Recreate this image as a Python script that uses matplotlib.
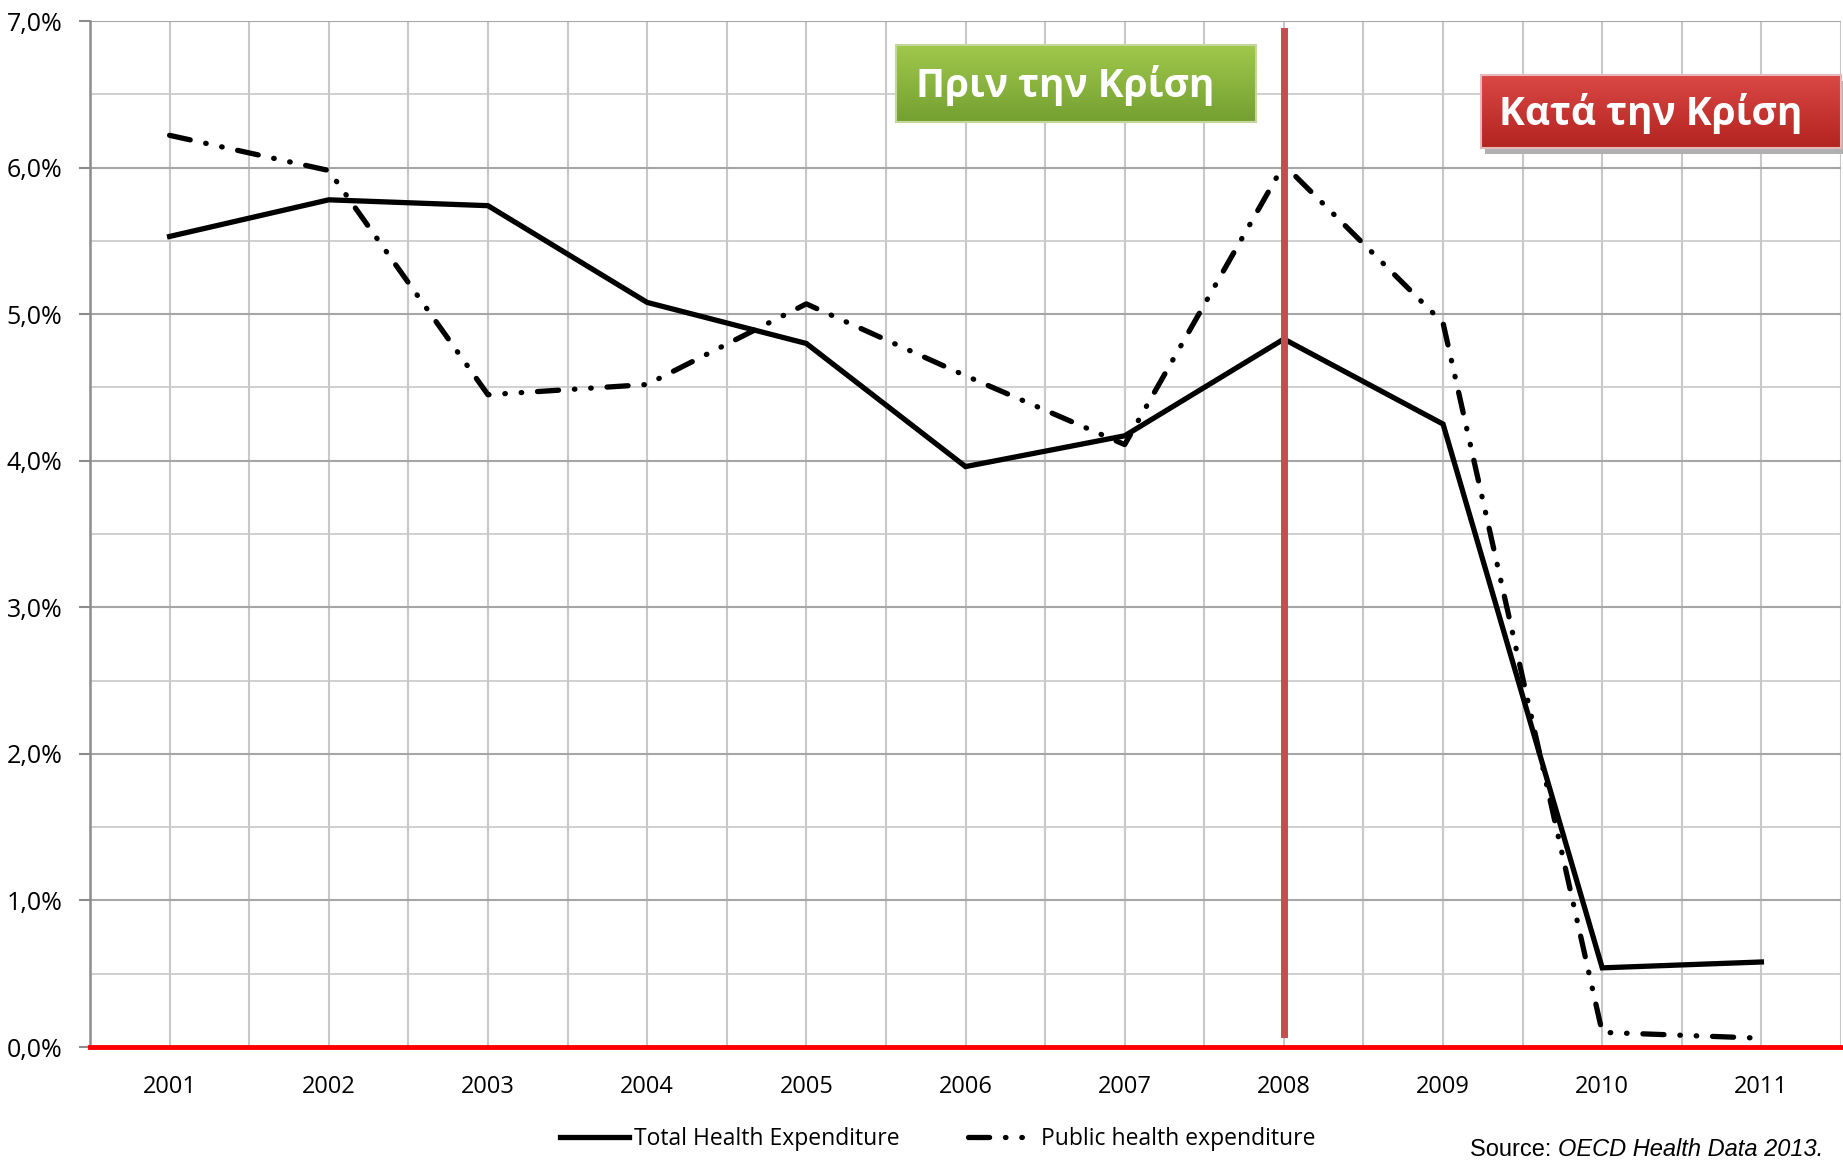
import numpy as np
import matplotlib.pyplot as plt
from matplotlib.ticker import MultipleLocator, FuncFormatter

years = ['2001', '2002', '2003', '2004', '2005', '2006', '2007', '2008', '2009', '2010', '2011']
total = [5.53, 5.78, 5.74, 5.08, 4.80, 3.96, 4.17, 4.83, 4.25, 0.54, 0.58]
public = [6.22, 5.98, 4.45, 4.52, 5.07, 4.58, 4.11, 6.02, 4.94, 0.10, 0.06]
crisis_year = '2008'

plt.rcParams['font.family'] = ['Liberation Sans Narrow', 'Open Sans', 'DejaVu Sans']

W, H = 1843, 1160
fig = plt.figure(figsize=(W/100, H/100), dpi=100)
ax = fig.add_axes([90/W, 1-1047/H, 1751/W, 1026/H])

x = np.arange(len(years))
ax.plot(x, total, color='black', lw=3.8, solid_joinstyle='miter', zorder=4,
        label='Total Health Expenditure')
ax.plot(x, public, color='black', lw=3.8, dashes=(4, 3, 0.1, 3, 0.1, 3),
        dash_capstyle='round', zorder=4, label='Public health expenditure')

ax.axhline(0, color='#ff0000', lw=3.5, zorder=5, clip_on=False)
cx = years.index(crisis_year)
ax.plot([cx, cx], [0.09, 6.93], color='#c0504d', lw=5, zorder=6)

ax.set_xlim(-0.5, len(years)-0.5)
ax.set_ylim(0, 7)
ax.set_xticks(x)
ax.set_xticklabels(years)
ax.set_xticks(np.arange(-0.5, len(years)), minor=True)
ax.yaxis.set_major_locator(MultipleLocator(1))
ax.yaxis.set_minor_locator(MultipleLocator(0.5))
ax.yaxis.set_major_formatter(FuncFormatter(lambda v, p: f'{v:.1f}%'.replace('.', ',')))

ax.grid(which='major', axis='y', color='#a6a6a6', lw=1.5)
ax.grid(which='minor', axis='y', color='#c8c8c8', lw=1.2)
ax.grid(which='both', axis='x', color='#c8c8c8', lw=1.5)
ax.set_axisbelow(True)

for s in ['top', 'right', 'bottom']:
    ax.spines[s].set_visible(False)
ax.spines['left'].set_color('#8c8c8c')
ax.spines['left'].set_linewidth(1.8)
ax.tick_params(axis='y', which='major', length=8, color='#8c8c8c', width=1.5, labelsize=18, pad=12)
ax.tick_params(axis='y', which='minor', length=0)
ax.tick_params(axis='x', which='both', length=0, labelsize=17, pad=20)


def grad_box(x0, y0, x1, y1, top, bottom, text, shadow=False):
    if shadow:
        sh = fig.add_axes([(x0+4)/W, 1-(y1+6)/H, (x1-x0)/W, (y1-y0)/H])
        sh.set_facecolor('#b0b0b0')
        sh.set_alpha(0.6)
        sh.set_xticks([]); sh.set_yticks([])
        for s in sh.spines.values():
            s.set_visible(False)
    b = fig.add_axes([x0/W, 1-y1/H, (x1-x0)/W, (y1-y0)/H])
    c1 = np.array(plt.matplotlib.colors.to_rgb(top))
    c2 = np.array(plt.matplotlib.colors.to_rgb(bottom))
    t = np.linspace(0, 1, 64)[:, None, None]
    img = c1*(1-t) + c2*t
    b.imshow(img, aspect='auto', extent=[0, 1, 0, 1])
    b.set_xticks([]); b.set_yticks([])
    for s in b.spines.values():
        s.set_color('#c3d69b' if not shadow else '#e6b9b8')
        s.set_linewidth(1.5)
    b.text(0.47, 0.47, text, color='white', fontsize=28, fontweight='bold',
           family=['Open Sans', 'DejaVu Sans'], ha='center', va='center')


grad_box(896, 45, 1256, 122, '#9fc84b', '#74a031', 'Πριν την Κρίση')
grad_box(1481, 75, 1841, 148, '#d94844', '#b3231f', 'Κατά την Κρίση', shadow=True)

fig.legend(loc='center', bbox_to_anchor=(938/W, 1-1139/H), ncol=2, frameon=False,
           fontsize=16.5, handlelength=3.0, handletextpad=0.2, columnspacing=3)
fig.text(1823/W, 1-1150/H, 'Source: ', ha='right', va='center', fontsize=17,
         family=['Liberation Sans', 'DejaVu Sans'])
src = fig.text(1823/W, 1-1150/H, 'OECD Health Data 2013.', ha='right', va='center',
               fontsize=17, style='italic', family=['Liberation Sans', 'DejaVu Sans'])
fig.canvas.draw()
bb = src.get_window_extent()
fig.texts[-2].set_position((bb.x0/W, 1-1150/H))

fig.savefig('out.png', dpi=100)
